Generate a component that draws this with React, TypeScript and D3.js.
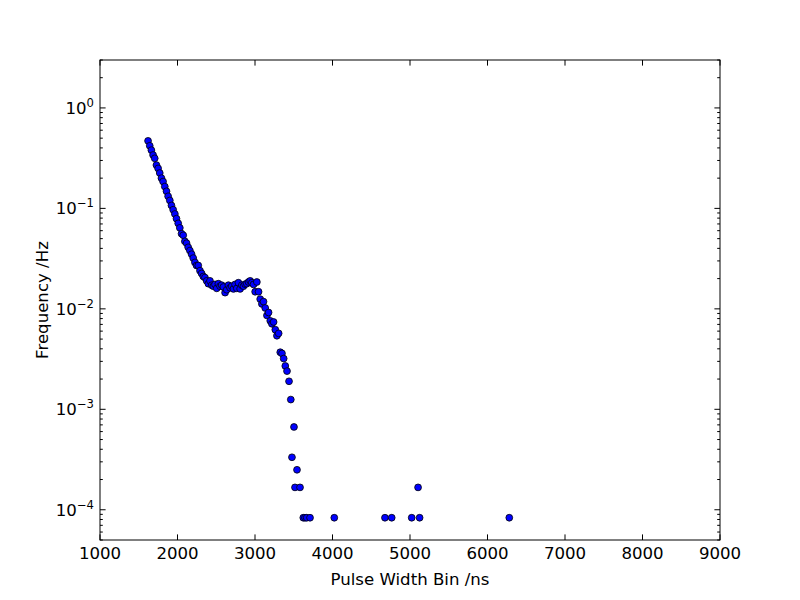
import React from "react";
import * as d3 from "d3";

const binX = [
  1620, 1642, 1663, 1685, 1706, 1728, 1750, 1771, 1793, 1814, 1836, 1858, 1879, 1901, 1922, 1944, 1966, 1987, 2009, 2030,
  2052, 2074, 2095, 2117, 2138, 2160, 2182, 2203, 2225, 2246, 2268, 2290, 2311, 2333, 2354, 2376, 2398, 2419, 2441, 2462,
  2484, 2506, 2527, 2549, 2570, 2592, 2614, 2635, 2657, 2678, 2700, 2722, 2743, 2765, 2786, 2808, 2830, 2851, 2873, 2894,
  2916, 2938, 2959, 2981, 3002, 3024, 3046, 3067, 3089, 3110, 3132, 3154, 3175, 3197, 3218, 3240, 3262, 3283, 3305, 3326,
  3348, 3370, 3391, 3413, 3439, 3462, 3477, 3503, 3516, 3542, 3581, 3623, 3645, 3667, 3710, 4023, 4677, 4764, 5022, 5104,
  5124, 6281,
];
const freqHz = [
  0.47, 0.42, 0.38, 0.34, 0.315, 0.27, 0.25, 0.225, 0.2, 0.185, 0.165, 0.148, 0.132, 0.12, 0.107, 0.097, 0.088, 0.079, 0.071, 0.064,
  0.056, 0.054, 0.047, 0.045, 0.041, 0.038, 0.035, 0.032, 0.029, 0.027, 0.027, 0.024, 0.0225, 0.021, 0.0205, 0.019, 0.0178, 0.019, 0.0172, 0.0168,
  0.0175, 0.016, 0.0178, 0.0168, 0.0172, 0.0165, 0.0145, 0.0155, 0.0172, 0.0162, 0.0168, 0.0158, 0.0175, 0.016, 0.0182, 0.0158, 0.0172, 0.0168, 0.0176, 0.0178,
  0.0185, 0.019, 0.0182, 0.0175, 0.0148, 0.0185, 0.0148, 0.0125, 0.0112, 0.0118, 0.0102, 0.0086, 0.0092, 0.0076, 0.0071, 0.0074, 0.0062, 0.0054, 0.0057, 0.0037,
  0.0036, 0.0032, 0.0027, 0.0024, 0.0019, 0.00125, 0.000333, 0.000667, 0.000167, 0.00025, 0.000167, 0.0000833, 0.0000833, 0.0000833, 0.0000833, 0.0000833, 0.0000833, 0.0000833, 0.0000833, 0.000167,
  0.0000833, 0.0000833,
];
const xTicks = [1000, 2000, 3000, 4000, 5000, 6000, 7000, 8000, 9000];
const yDecades = [-4, -3, -2, -1, 0];

const W = 800, H = 600;
const L = 100, R = 720, T = 60, B = 540;
const font = "'DejaVu Sans', sans-serif";

export default function App() {
  const x = d3.scaleLinear().domain([1000, 9000]).range([L, R]);
  const y = d3.scaleLog().domain([5e-5, 3]).range([B, T]);
  const minor: number[] = [];
  for (let e = -5; e <= 0; e++) {
    for (let m = 2; m <= 9; m++) {
      const v = m * Math.pow(10, e);
      if (v >= 5e-5 && v <= 3) minor.push(v);
    }
  }
  const major = 5.6, minorLen = 2.8;
  return (
    <svg width={W} height={H} style={{ position: "absolute", left: 0, top: 0, background: "#fff" }}>
      <rect x={0} y={0} width={W} height={H} fill="#fff" />
      {binX.map((v, i) => (
        <circle key={i} cx={x(v)} cy={y(freqHz[i])} r={3.4} fill="#0000ff" stroke="#000" strokeWidth={0.8} />
      ))}
      <rect x={L} y={T} width={R - L} height={B - T} fill="none" stroke="#000" strokeWidth={1} />
      {xTicks.map((t) => (
        <g key={t}>
          <line x1={x(t)} x2={x(t)} y1={B} y2={B - major} stroke="#000" />
          <line x1={x(t)} x2={x(t)} y1={T} y2={T + major} stroke="#000" />
          <text x={x(t)} y={559} textAnchor="middle" fontFamily={font} fontSize={16.6}>{t}</text>
        </g>
      ))}
      {yDecades.map((e) => {
        const yy = y(Math.pow(10, e));
        return (
          <g key={e}>
            <line x1={L} x2={L + major} y1={yy} y2={yy} stroke="#000" />
            <line x1={R} x2={R - major} y1={yy} y2={yy} stroke="#000" />
            <text x={94} y={yy + 6} textAnchor="end" fontFamily={font} fontSize={16.6}>
              10<tspan dy={-7} fontSize={11.6}>{e === 0 ? "0" : "\u2212" + Math.abs(e)}</tspan>
            </text>
          </g>
        );
      })}
      {minor.map((v, i) => (
        <g key={i}>
          <line x1={L} x2={L + minorLen} y1={y(v)} y2={y(v)} stroke="#000" />
          <line x1={R} x2={R - minorLen} y1={y(v)} y2={y(v)} stroke="#000" />
        </g>
      ))}
      <text x={(L + R) / 2} y={585} textAnchor="middle" fontFamily={font} fontSize={16.6}>Pulse Width Bin /ns</text>
      <text transform={`translate(48,${(T + B) / 2}) rotate(-90)`} textAnchor="middle" fontFamily={font} fontSize={16.6}>Frequency /Hz</text>
    </svg>
  );
}
